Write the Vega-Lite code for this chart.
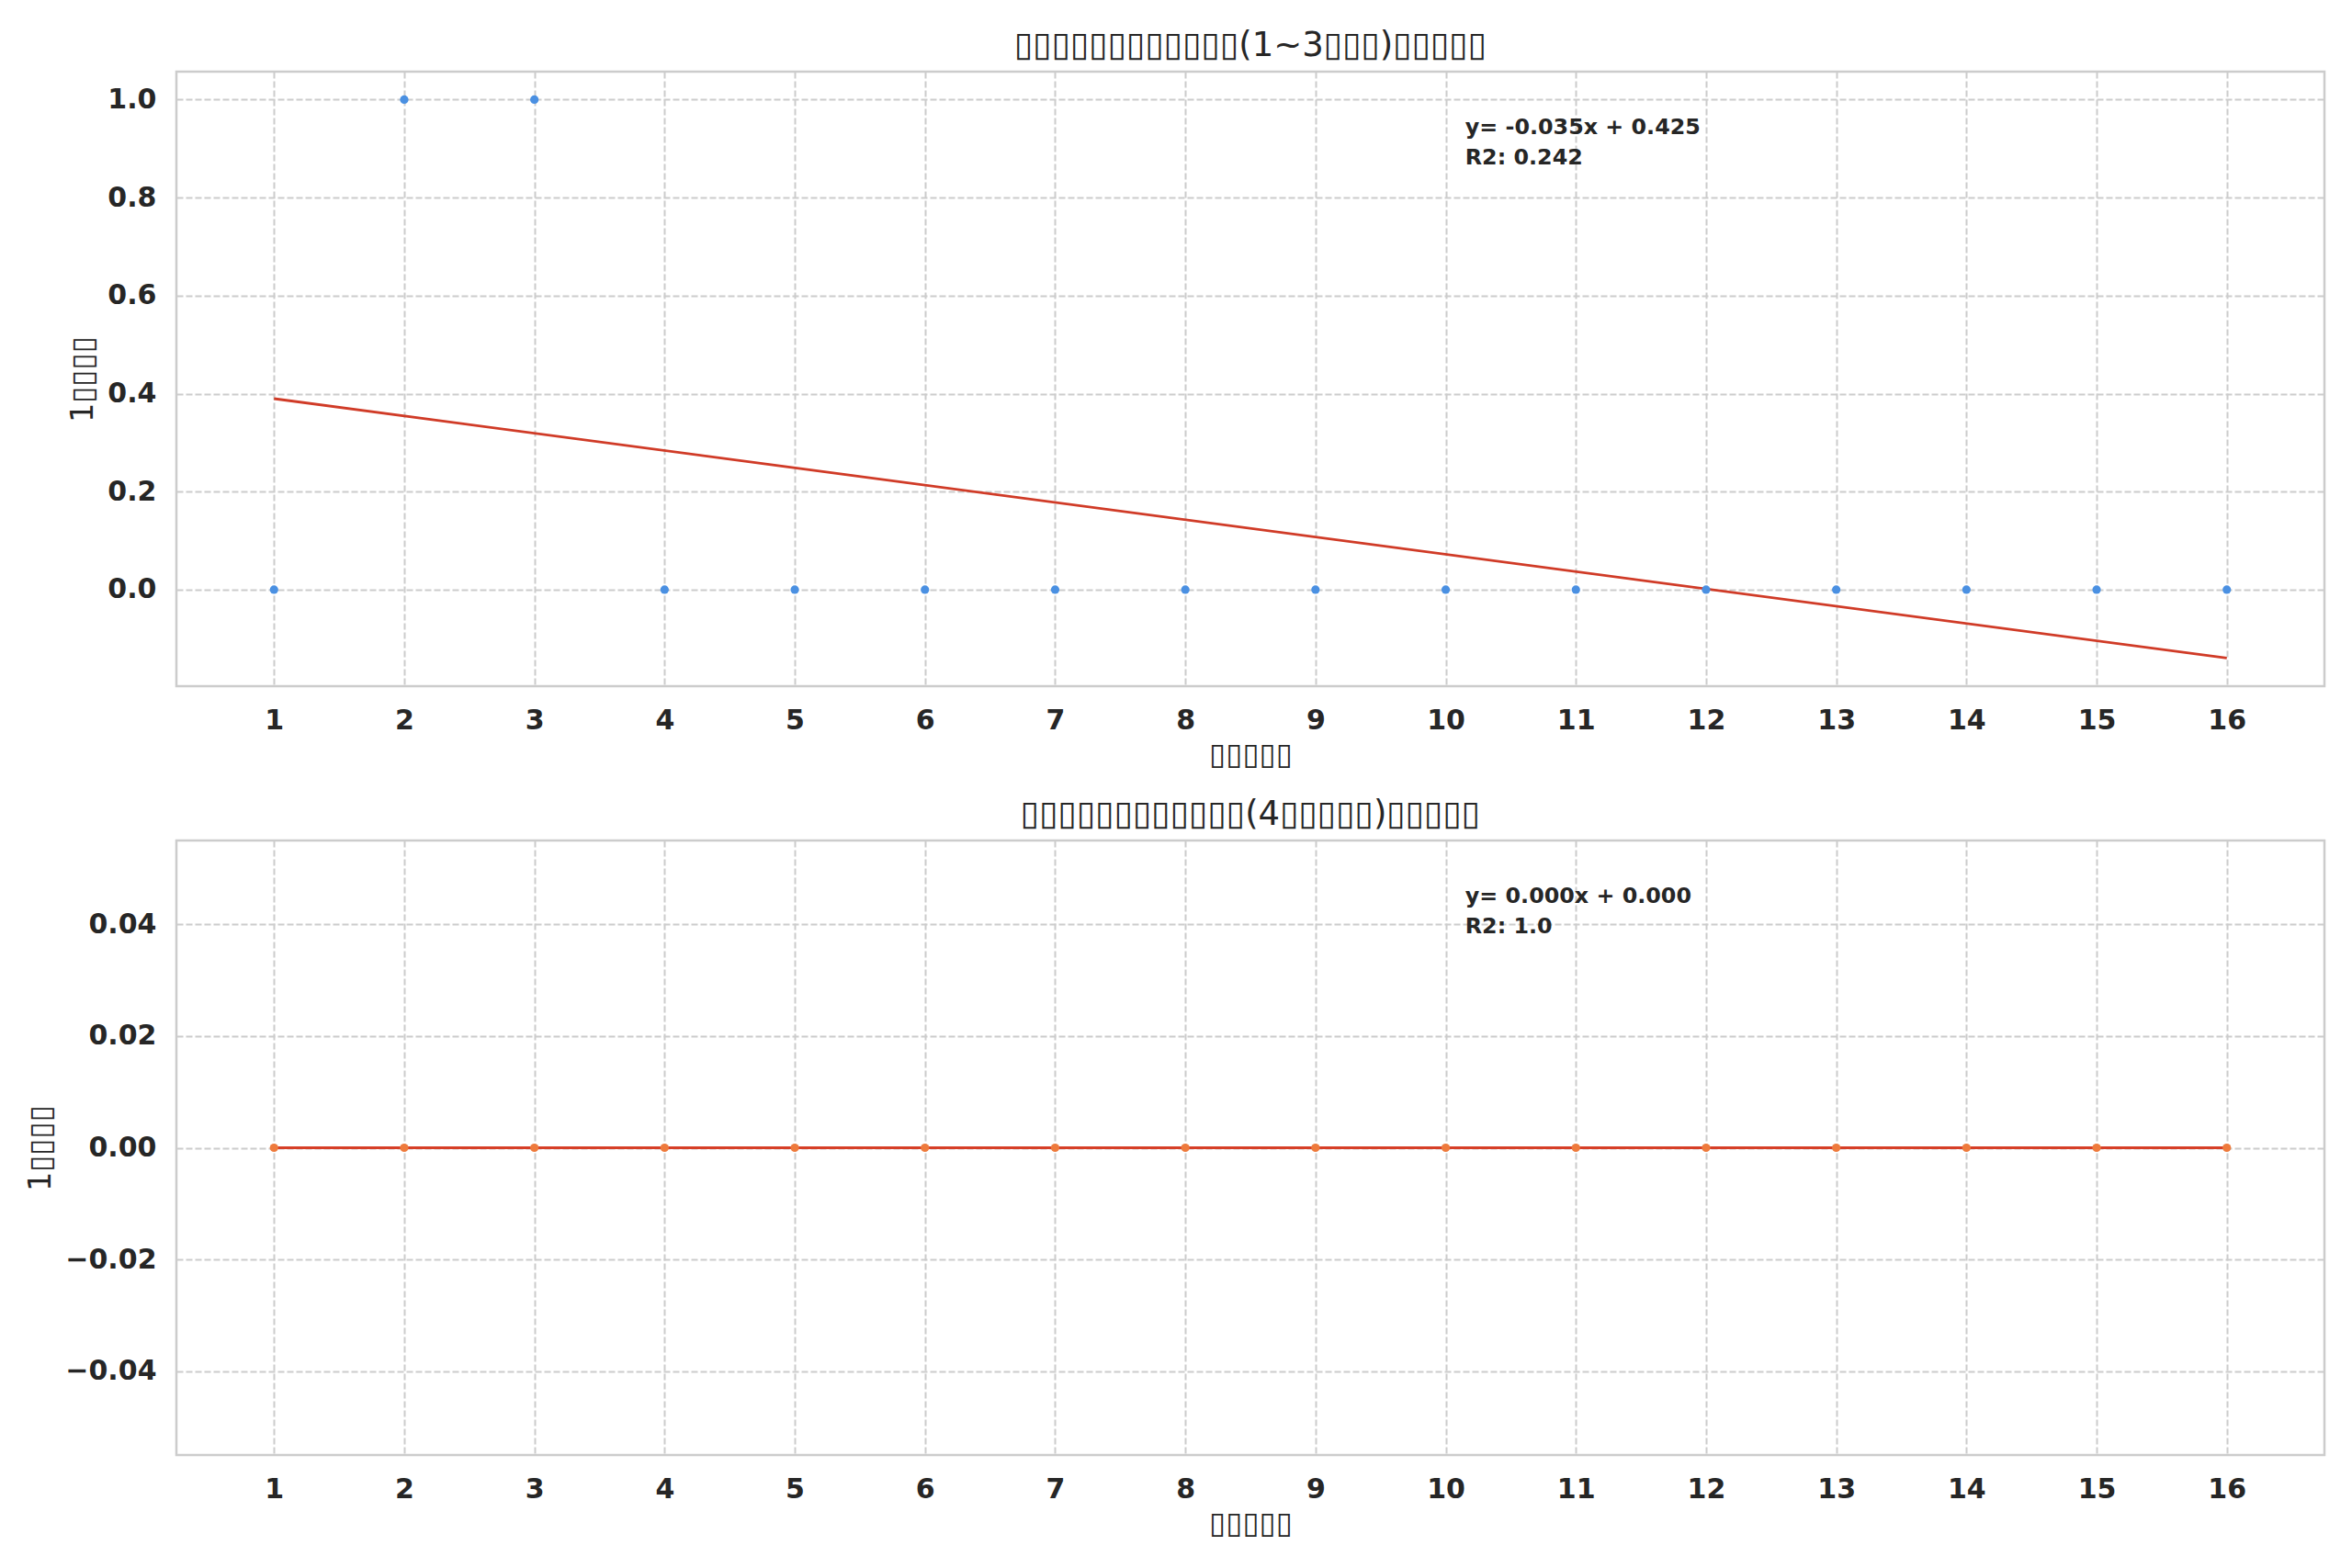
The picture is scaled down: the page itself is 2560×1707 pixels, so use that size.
{
  "$schema": "https://vega.github.io/schema/vega-lite/v6.json",
  "background": "white",
  "padding": {"left": 27, "top": 29, "right": 31, "bottom": 20},
  "datasets": {
    "low": [
      {"x": 1, "y": 0}, {"x": 2, "y": 1}, {"x": 3, "y": 1}, {"x": 4, "y": 0},
      {"x": 5, "y": 0}, {"x": 6, "y": 0}, {"x": 7, "y": 0}, {"x": 8, "y": 0},
      {"x": 9, "y": 0}, {"x": 10, "y": 0}, {"x": 11, "y": 0}, {"x": 12, "y": 0},
      {"x": 13, "y": 0}, {"x": 14, "y": 0}, {"x": 15, "y": 0}, {"x": 16, "y": 0}
    ],
    "low_fit": [{"x": 1, "y": 0.3897}, {"x": 16, "y": -0.1397}],
    "low_note": [{"eq": "y= -0.035x + 0.425", "r2": "R2: 0.242"}],
    "high": [
      {"x": 1, "y": 0}, {"x": 2, "y": 0}, {"x": 3, "y": 0}, {"x": 4, "y": 0},
      {"x": 5, "y": 0}, {"x": 6, "y": 0}, {"x": 7, "y": 0}, {"x": 8, "y": 0},
      {"x": 9, "y": 0}, {"x": 10, "y": 0}, {"x": 11, "y": 0}, {"x": 12, "y": 0},
      {"x": 13, "y": 0}, {"x": 14, "y": 0}, {"x": 15, "y": 0}, {"x": 16, "y": 0}
    ],
    "high_fit": [{"x": 1, "y": 0}, {"x": 16, "y": 0}],
    "high_note": [{"eq": "y= 0.000x + 0.000", "r2": "R2: 1.0"}]
  },
  "config": {
    "view": {"stroke": "#cccccc", "strokeWidth": 2.5},
    "font": "DejaVu Sans",
    "axis": {
      "grid": true, "gridColor": "#cccccc", "gridDash": [7, 3], "gridWidth": 2,
      "domain": false, "ticks": false,
      "labelFont": "DejaVu Sans", "labelFontWeight": "bold", "labelFontSize": 30, "labelColor": "#262626",
      "titleFont": "DejaVu Sans", "titleFontWeight": "normal", "titleFontSize": 33, "titleColor": "#262626"
    },
    "axisX": {"labelPadding": 22, "titlePadding": 6, "labelAngle": 0},
    "axisY": {"labelPadding": 22, "titlePadding": 9},
    "title": {"font": "DejaVu Sans", "fontSize": 37, "fontWeight": "normal", "color": "#262626", "offset": 9},
    "concat": {"spacing": 26}
  },
  "vconcat": [
    {
      "title": "▯▯▯▯▯▯▯▯▯▯▯▯(1~3▯▯▯)▯▯▯▯▯",
      "width": 2338,
      "height": 669,
      "layer": [
        {
          "data": {"name": "low_fit"},
          "mark": {"type": "line", "color": "#d03b27", "strokeWidth": 2.8},
          "encoding": {
            "x": {"field": "x", "type": "quantitative", "title": "▯▯▯▯▯",
              "scale": {"domain": [0.25, 16.75], "nice": false, "zero": false},
              "axis": {"values": [1, 2, 3, 4, 5, 6, 7, 8, 9, 10, 11, 12, 13, 14, 15, 16], "format": "d"}},
            "y": {"field": "y", "type": "quantitative", "title": "1▯▯▯▯",
              "scale": {"domain": [-0.197, 1.057], "nice": false, "zero": false},
              "axis": {"values": [0, 0.2, 0.4, 0.6, 0.8, 1.0], "format": ".1f"}}
          }
        },
        {
          "data": {"name": "low"},
          "mark": {"type": "circle", "color": "#4a90e2", "size": 85, "opacity": 1},
          "encoding": {
            "x": {"field": "x", "type": "quantitative"},
            "y": {"field": "y", "type": "quantitative"}
          }
        },
        {
          "data": {"name": "low_note"},
          "mark": {"type": "text", "align": "left", "baseline": "alphabetic", "fontSize": 23.8, "fontWeight": "bold", "color": "#262626"},
          "encoding": {
            "x": {"datum": 10.15, "type": "quantitative"},
            "y": {"datum": 0.93, "type": "quantitative"},
            "text": {"field": "eq", "type": "nominal"}
          }
        },
        {
          "data": {"name": "low_note"},
          "mark": {"type": "text", "align": "left", "baseline": "alphabetic", "fontSize": 23.8, "fontWeight": "bold", "color": "#262626"},
          "encoding": {
            "x": {"datum": 10.15, "type": "quantitative"},
            "y": {"datum": 0.868, "type": "quantitative"},
            "text": {"field": "r2", "type": "nominal"}
          }
        }
      ]
    },
    {
      "title": "▯▯▯▯▯▯▯▯▯▯▯▯(4▯▯▯▯▯)▯▯▯▯▯",
      "width": 2338,
      "height": 669,
      "layer": [
        {
          "data": {"name": "high_fit"},
          "mark": {"type": "line", "color": "#d63f27", "strokeWidth": 2.8},
          "encoding": {
            "x": {"field": "x", "type": "quantitative", "title": "▯▯▯▯▯",
              "scale": {"domain": [0.25, 16.75], "nice": false, "zero": false},
              "axis": {"values": [1, 2, 3, 4, 5, 6, 7, 8, 9, 10, 11, 12, 13, 14, 15, 16], "format": "d"}},
            "y": {"field": "y", "type": "quantitative", "title": "1▯▯▯▯",
              "scale": {"domain": [-0.055, 0.055], "nice": false, "zero": false},
              "axis": {"values": [-0.04, -0.02, 0, 0.02, 0.04], "format": ".2f"}}
          }
        },
        {
          "data": {"name": "high"},
          "mark": {"type": "circle", "color": "#ee7a3c", "size": 85, "opacity": 1},
          "encoding": {
            "x": {"field": "x", "type": "quantitative"},
            "y": {"field": "y", "type": "quantitative"}
          }
        },
        {
          "data": {"name": "high_note"},
          "mark": {"type": "text", "align": "left", "baseline": "alphabetic", "fontSize": 23.8, "fontWeight": "bold", "color": "#262626"},
          "encoding": {
            "x": {"datum": 10.15, "type": "quantitative"},
            "y": {"datum": 0.0438, "type": "quantitative"},
            "text": {"field": "eq", "type": "nominal"}
          }
        },
        {
          "data": {"name": "high_note"},
          "mark": {"type": "text", "align": "left", "baseline": "alphabetic", "fontSize": 23.8, "fontWeight": "bold", "color": "#262626"},
          "encoding": {
            "x": {"datum": 10.15, "type": "quantitative"},
            "y": {"datum": 0.0384, "type": "quantitative"},
            "text": {"field": "r2", "type": "nominal"}
          }
        }
      ]
    }
  ]
}
